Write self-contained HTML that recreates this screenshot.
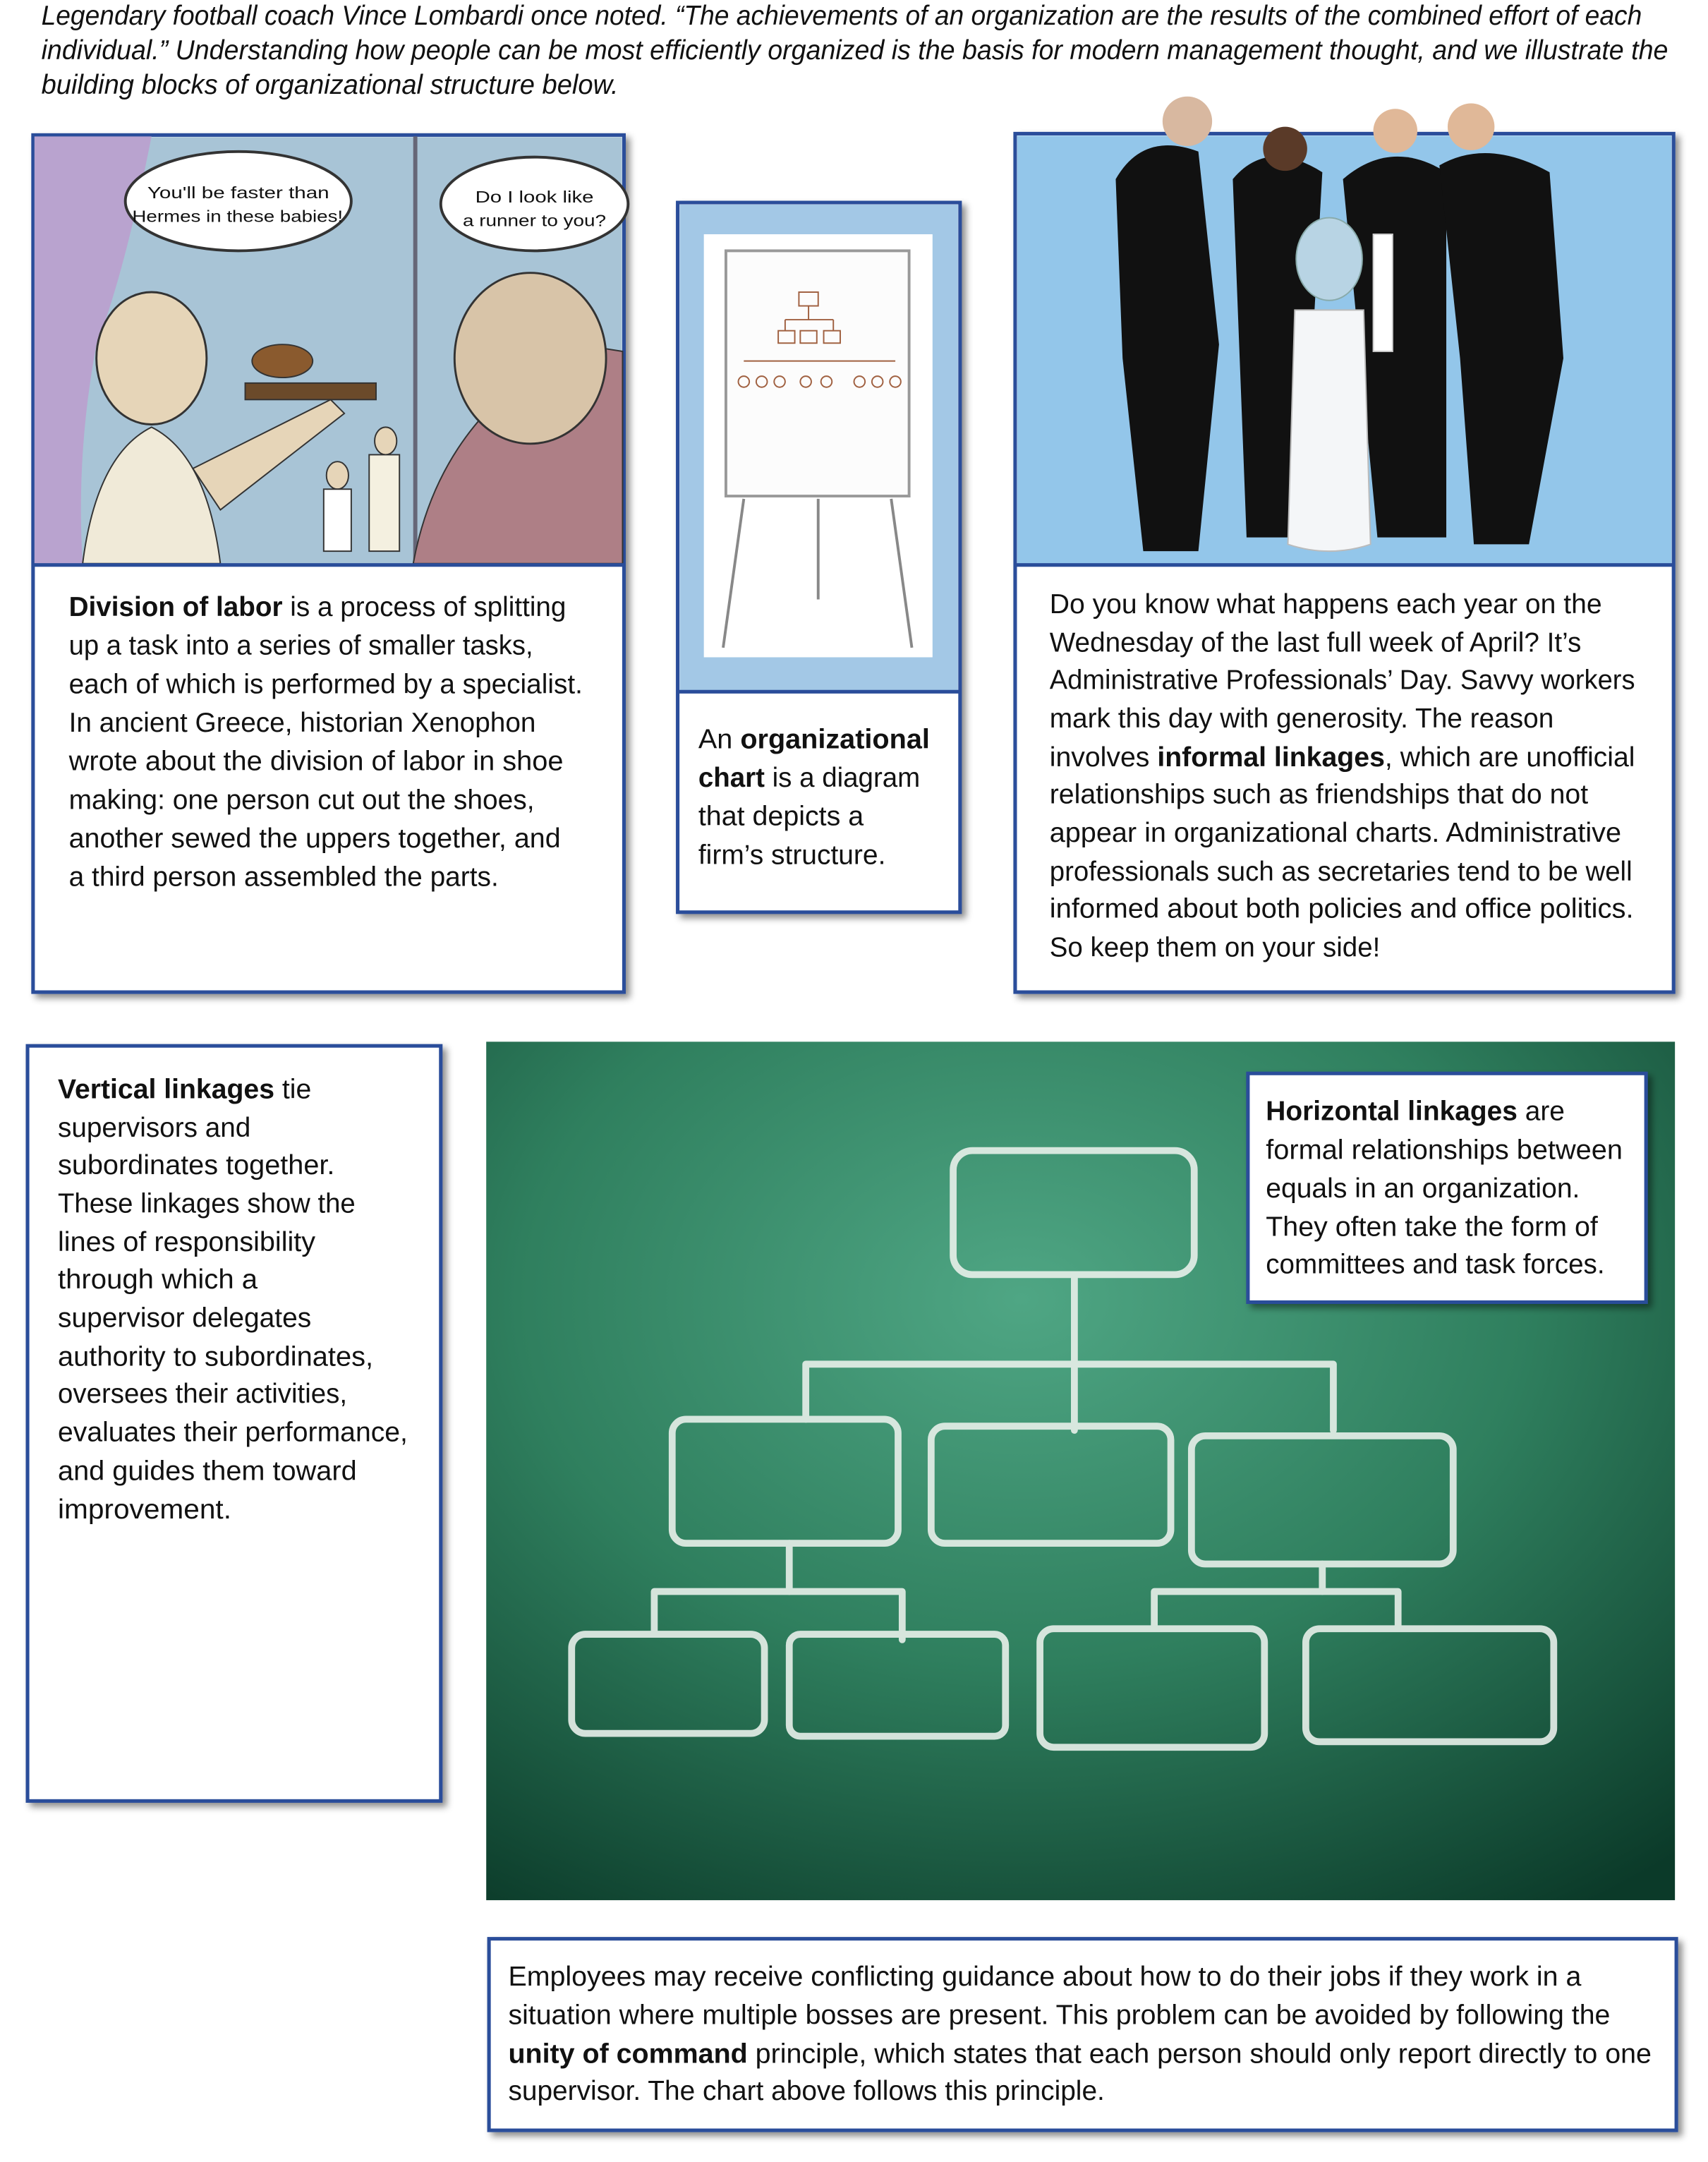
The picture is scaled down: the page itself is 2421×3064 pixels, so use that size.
<!DOCTYPE html>
<html><head><meta charset="utf-8"><style>
html,body{margin:0;padding:0;background:#fff;}
svg{display:block;}
text{font-family:"Liberation Sans",sans-serif;fill:#111;}
</style></head><body>
<svg width="2421" height="3064" viewBox="0 0 1240 1569" preserveAspectRatio="none" xmlns="http://www.w3.org/2000/svg">
<defs>
<filter id="sh" x="-5%" y="-5%" width="112%" height="112%"><feDropShadow dx="3" dy="3" stdDeviation="2.5" flood-color="#000" flood-opacity="0.45"/></filter>
<radialGradient id="chalk" cx="0.45" cy="0.3" r="0.85">
<stop offset="0" stop-color="#4fa684"/><stop offset="0.5" stop-color="#2f7f5e"/><stop offset="1" stop-color="#0b3a29"/></radialGradient>
</defs>

<g font-style="italic" font-size="20">
<text x="30" y="18" textLength="1162" lengthAdjust="spacingAndGlyphs">Legendary football coach Vince Lombardi once noted. “The achievements of an organization are the results of the combined effort of each</text>
<text x="30" y="43" textLength="1181" lengthAdjust="spacingAndGlyphs">individual.” Understanding how people can be most efficiently organized is the basis for modern management thought, and we illustrate the</text>
<text x="30" y="68" textLength="419" lengthAdjust="spacingAndGlyphs">building blocks of organizational structure below.</text>
</g>

<!-- Box 1 -->
<rect x="24" y="98" width="429" height="622" fill="#fff" stroke="#2a4d9a" stroke-width="2.6" filter="url(#sh)"/>
<g>
<rect x="25.5" y="99.5" width="426" height="310" fill="#a8c4d6"/>
<path d="M25 99 L110 99 Q90 200 70 250 Q55 330 60 409 L25 409Z" fill="#b9a3cf"/>
<rect x="300" y="99" width="3" height="310" fill="#667"/>
<ellipse cx="173" cy="146" rx="82" ry="36" fill="#fff" stroke="#333" stroke-width="2"/>
<ellipse cx="388" cy="148" rx="68" ry="34" fill="#fff" stroke="#333" stroke-width="2"/>
<text x="107" y="144" font-size="12" textLength="132" lengthAdjust="spacingAndGlyphs">You'll be faster than</text>
<text x="96" y="161" font-size="12" textLength="153" lengthAdjust="spacingAndGlyphs">Hermes in these babies!</text>
<text x="345" y="147" font-size="12" textLength="86" lengthAdjust="spacingAndGlyphs">Do I look like</text>
<text x="336" y="164" font-size="12" textLength="104" lengthAdjust="spacingAndGlyphs">a runner to you?</text>
<path d="M300 409 Q320 300 420 250 L452 255 L452 409Z" fill="#ae7f86" stroke="#333"/>
<ellipse cx="385" cy="260" rx="55" ry="62" fill="#d8c4a8" stroke="#333" stroke-width="1.5"/>
<ellipse cx="110" cy="260" rx="40" ry="48" fill="#e6d5b8" stroke="#333" stroke-width="1.5"/>
<path d="M60 409 Q70 330 110 310 Q150 330 160 409Z" fill="#f0ead8" stroke="#333"/>
<path d="M140 340 L240 290 L250 300 L160 370Z" fill="#e6d5b8" stroke="#333"/>
<rect x="178" y="278" width="95" height="12" fill="#6b4a2a" stroke="#333"/>
<ellipse cx="205" cy="262" rx="22" ry="12" fill="#8a5a2e" stroke="#333"/>
<ellipse cx="245" cy="345" rx="8" ry="10" fill="#e6d5b8" stroke="#333"/>
<rect x="235" y="355" width="20" height="45" fill="#fff" stroke="#333"/>
<ellipse cx="280" cy="320" rx="8" ry="10" fill="#e6d5b8" stroke="#333"/>
<rect x="268" y="330" width="22" height="70" fill="#f4f0e0" stroke="#333"/>
</g>
<line x1="24" y1="410" x2="453" y2="410" stroke="#2a4d9a" stroke-width="2.6"/>
<g font-size="20">
<text x="50" y="447" textLength="361" lengthAdjust="spacingAndGlyphs"><tspan font-weight="bold">Division of labor</tspan> is a process of splitting</text>
<text x="50" y="475" textLength="337" lengthAdjust="spacingAndGlyphs">up a task  into a series of smaller tasks,</text>
<text x="50" y="503" textLength="373" lengthAdjust="spacingAndGlyphs">each of which is performed by a specialist.</text>
<text x="50" y="531" textLength="339" lengthAdjust="spacingAndGlyphs">In ancient Greece, historian Xenophon</text>
<text x="50" y="559" textLength="359" lengthAdjust="spacingAndGlyphs">wrote about the division of labor in shoe</text>
<text x="50" y="587" textLength="338" lengthAdjust="spacingAndGlyphs">making: one person cut out the shoes,</text>
<text x="50" y="615" textLength="357" lengthAdjust="spacingAndGlyphs">another sewed the uppers together, and</text>
<text x="50" y="643" textLength="312" lengthAdjust="spacingAndGlyphs">a third person assembled the parts.</text>
</g>

<!-- Box 2 -->
<rect x="492" y="147" width="205" height="515" fill="#fff" stroke="#2a4d9a" stroke-width="2.6" filter="url(#sh)"/>
<rect x="493.5" y="148.5" width="202" height="353" fill="#a3c8e6"/>
<rect x="511" y="170" width="166" height="307" fill="#fff"/>
<rect x="527" y="182" width="133" height="178" fill="#fcfcfc" stroke="#999" stroke-width="2"/>
<line x1="540" y1="362" x2="525" y2="470" stroke="#888" stroke-width="2"/>
<line x1="647" y1="362" x2="662" y2="470" stroke="#888" stroke-width="2"/>
<line x1="594" y1="362" x2="594" y2="435" stroke="#888" stroke-width="2"/>
<g stroke="#a06040" fill="none" stroke-width="1">
<rect x="580" y="212" width="14" height="10"/><line x1="587" y1="222" x2="587" y2="232"/>
<line x1="570" y1="232" x2="605" y2="232"/>
<rect x="565" y="240" width="12" height="9"/><rect x="581" y="240" width="12" height="9"/><rect x="598" y="240" width="12" height="9"/>
<line x1="570" y1="232" x2="570" y2="240"/><line x1="605" y1="232" x2="605" y2="240"/>
<line x1="540" y1="262" x2="650" y2="262"/>
<circle cx="540" cy="277" r="4"/><circle cx="553" cy="277" r="4"/><circle cx="566" cy="277" r="4"/><circle cx="585" cy="277" r="4"/><circle cx="600" cy="277" r="4"/><circle cx="624" cy="277" r="4"/><circle cx="637" cy="277" r="4"/><circle cx="650" cy="277" r="4"/>
</g>
<line x1="492" y1="502" x2="697" y2="502" stroke="#2a4d9a" stroke-width="2.6"/>
<g font-size="20">
<text x="507" y="543" textLength="168" lengthAdjust="spacingAndGlyphs">An <tspan font-weight="bold">organizational</tspan></text>
<text x="507" y="571" textLength="161" lengthAdjust="spacingAndGlyphs"><tspan font-weight="bold">chart</tspan> is a diagram</text>
<text x="507" y="599" textLength="120" lengthAdjust="spacingAndGlyphs">that depicts a</text>
<text x="507" y="627" textLength="136" lengthAdjust="spacingAndGlyphs">firm’s structure.</text>
</g>

<!-- Box 3 -->
<rect x="737" y="97" width="478" height="623" fill="#fff" stroke="#2a4d9a" stroke-width="2.6" filter="url(#sh)"/>
<rect x="738.5" y="98.5" width="475" height="311" fill="#93c6ea"/>
<g fill="#111">
<path d="M810 130 Q830 95 870 110 L885 250 L870 400 L830 400 L815 260Z"/>
<path d="M895 130 Q920 100 960 125 L945 390 L905 390Z"/>
<path d="M975 130 Q1010 100 1050 125 L1050 390 L1000 390Z"/>
<path d="M1045 120 Q1080 100 1125 125 L1135 260 L1110 395 L1070 395 L1060 260Z"/>
</g>
<circle cx="862" cy="88" r="18" fill="#d8b8a0"/>
<circle cx="933" cy="108" r="16" fill="#5a3a28"/>
<circle cx="1013" cy="95" r="16" fill="#e0b898"/>
<circle cx="1068" cy="92" r="17" fill="#e0b898"/>
<path d="M940 225 L990 225 L995 395 Q965 405 935 395Z" fill="#f4f6f8" stroke="#bbb"/>
<ellipse cx="965" cy="188" rx="24" ry="30" fill="#b8d4e4" stroke="#8aa"/>
<rect x="997" y="170" width="14" height="85" fill="#fff" stroke="#ccc"/>
<line x1="737" y1="410" x2="1215" y2="410" stroke="#2a4d9a" stroke-width="2.6"/>
<g font-size="20">
<text x="762" y="445" textLength="401" lengthAdjust="spacingAndGlyphs">Do you know what happens each year on the</text>
<text x="762" y="473" textLength="386" lengthAdjust="spacingAndGlyphs">Wednesday of the last full week of April? It’s</text>
<text x="762" y="500" textLength="425" lengthAdjust="spacingAndGlyphs">Administrative Professionals’ Day. Savvy workers</text>
<text x="762" y="528" textLength="366" lengthAdjust="spacingAndGlyphs">mark this day with generosity. The reason</text>
<text x="762" y="556" textLength="425" lengthAdjust="spacingAndGlyphs">involves <tspan font-weight="bold">informal linkages</tspan>, which are unofficial</text>
<text x="762" y="583" textLength="391" lengthAdjust="spacingAndGlyphs">relationships such as friendships that do not</text>
<text x="762" y="611" textLength="415" lengthAdjust="spacingAndGlyphs">appear in organizational charts. Administrative</text>
<text x="762" y="639" textLength="423" lengthAdjust="spacingAndGlyphs">professionals such as secretaries tend to be well</text>
<text x="762" y="666" textLength="424" lengthAdjust="spacingAndGlyphs">informed about both policies and office politics.</text>
<text x="762" y="694" textLength="240" lengthAdjust="spacingAndGlyphs">So keep them on your side!</text>
</g>

<!-- Box 4 -->
<rect x="20" y="759" width="300" height="548" fill="#fff" stroke="#2a4d9a" stroke-width="2.6" filter="url(#sh)"/>
<g font-size="20">
<text x="42" y="797" textLength="184" lengthAdjust="spacingAndGlyphs"><tspan font-weight="bold">Vertical linkages</tspan> tie</text>
<text x="42" y="825" textLength="140" lengthAdjust="spacingAndGlyphs">supervisors and</text>
<text x="42" y="852" textLength="201" lengthAdjust="spacingAndGlyphs">subordinates together.</text>
<text x="42" y="880" textLength="216" lengthAdjust="spacingAndGlyphs">These linkages show the</text>
<text x="42" y="908" textLength="187" lengthAdjust="spacingAndGlyphs">lines of responsibility</text>
<text x="42" y="935" textLength="145" lengthAdjust="spacingAndGlyphs">through which a</text>
<text x="42" y="963" textLength="184" lengthAdjust="spacingAndGlyphs">supervisor delegates</text>
<text x="42" y="991" textLength="229" lengthAdjust="spacingAndGlyphs">authority to subordinates,</text>
<text x="42" y="1018" textLength="210" lengthAdjust="spacingAndGlyphs">oversees their activities,</text>
<text x="42" y="1046" textLength="254" lengthAdjust="spacingAndGlyphs">evaluates their performance,</text>
<text x="42" y="1074" textLength="217" lengthAdjust="spacingAndGlyphs">and guides them toward</text>
<text x="42" y="1102" textLength="126" lengthAdjust="spacingAndGlyphs">improvement.</text>
</g>

<!-- Chalkboard -->
<rect x="353" y="756" width="863" height="623" fill="url(#chalk)"/>
<g fill="none" stroke="#e8f0ea" stroke-width="5" stroke-linejoin="round" stroke-linecap="round" opacity="0.9">
<rect x="692" y="835" width="175" height="90" rx="14"/>
<line x1="780" y1="925" x2="780" y2="1038"/>
<polyline points="585,1030 585,990 968,990 968,1038"/>
<rect x="488" y="1030" width="164" height="90" rx="10"/>
<rect x="676" y="1035" width="174" height="85" rx="10"/>
<rect x="865" y="1042" width="190" height="93" rx="10"/>
<line x1="573" y1="1120" x2="573" y2="1155"/>
<polyline points="475,1185 475,1155 655,1155 655,1190"/>
<line x1="960" y1="1135" x2="960" y2="1155"/>
<polyline points="838,1180 838,1155 1015,1155 1015,1180"/>
<rect x="415" y="1186" width="140" height="72" rx="10"/>
<rect x="573" y="1186" width="157" height="74" rx="8"/>
<rect x="755" y="1182" width="163" height="86" rx="10"/>
<rect x="948" y="1182" width="180" height="82" rx="10"/>
</g>

<!-- Horizontal box -->
<rect x="906" y="779" width="289" height="166" fill="#fff" stroke="#2a4d9a" stroke-width="2.6" filter="url(#sh)"/>
<g font-size="20">
<text x="919" y="813" textLength="217" lengthAdjust="spacingAndGlyphs"><tspan font-weight="bold">Horizontal linkages</tspan> are</text>
<text x="919" y="841" textLength="259" lengthAdjust="spacingAndGlyphs">formal relationships between</text>
<text x="919" y="869" textLength="228" lengthAdjust="spacingAndGlyphs">equals in an organization.</text>
<text x="919" y="897" textLength="241" lengthAdjust="spacingAndGlyphs">They often take the form of</text>
<text x="919" y="924" textLength="246" lengthAdjust="spacingAndGlyphs">committees and task forces.</text>
</g>

<!-- Bottom box -->
<rect x="355" y="1407" width="862" height="139" fill="#fff" stroke="#2a4d9a" stroke-width="2.6" filter="url(#sh)"/>
<g font-size="20">
<text x="369" y="1441" textLength="779" lengthAdjust="spacingAndGlyphs">Employees may receive conflicting guidance about how to do their jobs if they work in a</text>
<text x="369" y="1469" textLength="800" lengthAdjust="spacingAndGlyphs">situation where multiple bosses are present. This problem can be avoided by following the</text>
<text x="369" y="1497" textLength="830" lengthAdjust="spacingAndGlyphs"><tspan font-weight="bold">unity of command</tspan> principle, which states that each person should only report directly to one</text>
<text x="369" y="1524" textLength="433" lengthAdjust="spacingAndGlyphs">supervisor. The chart above follows this principle.</text>
</g>
</svg>
</body></html>
